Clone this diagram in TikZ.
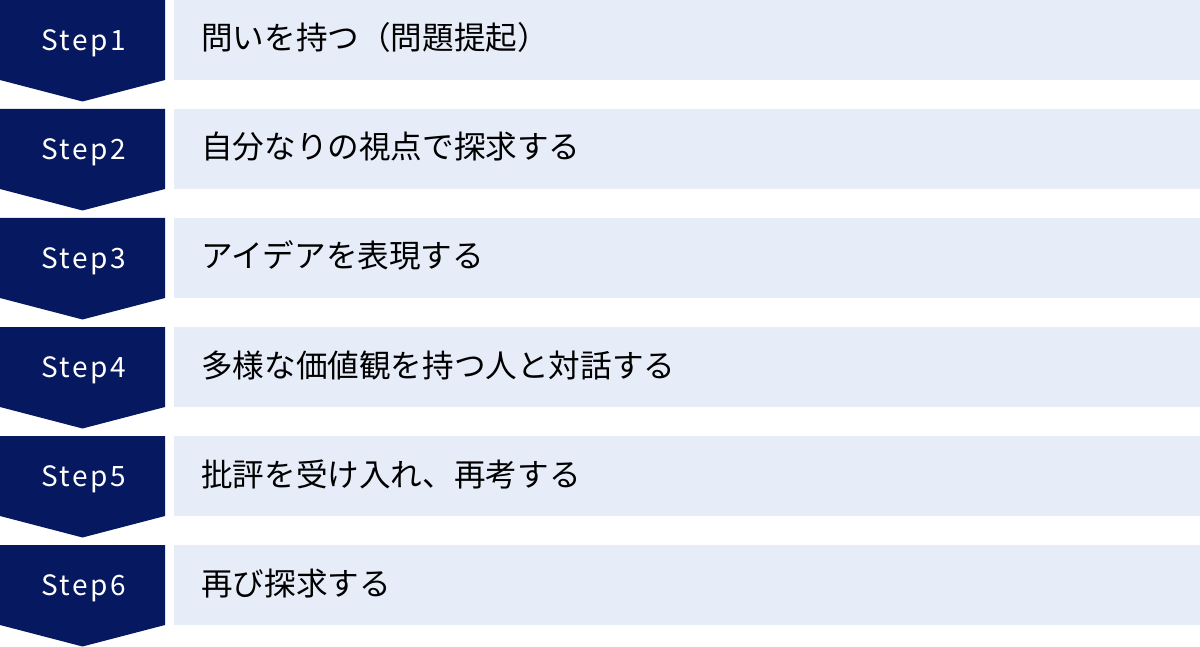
\documentclass[tikz,border=0pt]{standalone}
\usepackage{fontspec}
\setmainfont{Noto Sans CJK JP}
\newfontfamily\stepfont[LetterSpace=9]{Noto Sans CJK JP}
\definecolor{navy}{HTML}{06185F}
\definecolor{lightbg}{HTML}{E6ECF8}
\begin{document}
\begin{tikzpicture}[x=1pt,y=-1pt,
  chev/.style={fill=navy,draw=none},
  lbox/.style={fill=lightbg,draw=none},
  steplbl/.style={text=white,font=\stepfont\fontsize{28}{30}\selectfont,inner sep=0pt,anchor=base},
  desc/.style={text=black,font=\fontsize{31.6}{34}\selectfont,inner sep=0pt,anchor=base west}]
\useasboundingbox (0,0) rectangle (1200,647);
\foreach \i/\t in {1/{問いを持つ（問題提起）},2/{自分なりの視点で探求する},3/{アイデアを表現する},4/{多様な価値観を持つ人と対話する},5/{批評を受け入れ、再考する},6/{再び探求する}}{
  \pgfmathsetmacro{\top}{(\i-1)*109}
  \fill[chev] (0,\top) -- (165,\top) -- (165,\top+80) -- (82.5,\top+101.5) -- (0,\top+80) -- cycle;
  \fill[lbox] (174,\top) rectangle (1200,\top+80);
  \node[steplbl] (s\i) at (83.5,\top+50.5) {Step\i};
  \node[desc] (d\i) at (201,\top+50) {\t};
}
\end{tikzpicture}
\end{document}
